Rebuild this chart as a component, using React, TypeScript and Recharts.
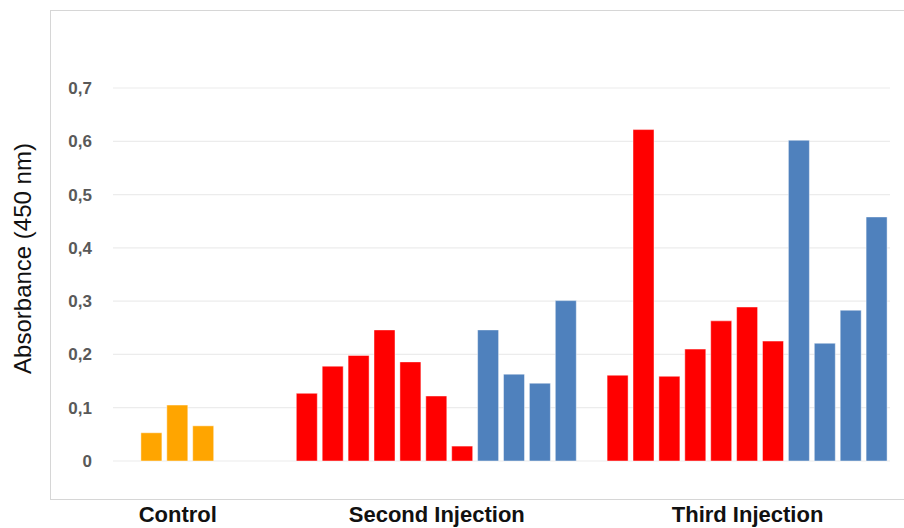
import { Bar, BarChart, CartesianGrid, Cell, XAxis, YAxis } from 'recharts';

// Absorbance readings per sample.
const controlValues = [0.053, 0.105, 0.066];
const secondRed = [0.127, 0.178, 0.198, 0.246, 0.186, 0.122, 0.028];
const secondBlue = [0.246, 0.163, 0.146, 0.301];
const thirdRed = [0.161, 0.622, 0.159, 0.21, 0.263, 0.289, 0.225];
const thirdBlue = [0.602, 0.221, 0.283, 0.458];

const groupLabels = ['Control', 'Second Injection', 'Third Injection'];
const yTicks = [0, 0.1, 0.2, 0.3, 0.4, 0.5, 0.6, 0.7];

const ORANGE = '#ffa500';
const RED = '#ff0000';
const BLUE = '#4f81bd';

interface Row {
  slot: string;
  value: number | null;
  color: string;
  label: string;
}

let slotId = 0;
const gap = (n: number): Row[] =>
  Array.from({ length: n }, () => ({ slot: `s${slotId++}`, value: null, color: 'none', label: '' }));

const group = (parts: [number[], string][], label: string): Row[] => {
  const rows: Row[] = parts.flatMap(([vals, color]) =>
    vals.map((v) => ({ slot: `s${slotId++}`, value: v, color, label: '' })),
  );
  rows[Math.floor((rows.length - 1) / 2)].label = label;
  return rows;
};

const rows: Row[] = [
  ...gap(1),
  ...group([[controlValues, ORANGE]], groupLabels[0]),
  ...gap(3),
  ...group([[secondRed, RED], [secondBlue, BLUE]], groupLabels[1]),
  ...gap(1),
  ...group([[thirdRed, RED], [thirdBlue, BLUE]], groupLabels[2]),
];

const fmt = (v: number) => (v === 0 ? '0' : v.toFixed(1).replace('.', ','));

function GroupTick(props: any) {
  const { x, y, index } = props;
  const label = rows[index]?.label;
  if (!label) return null;
  return (
    <text
      x={x}
      y={y}
      dy={61}
      textAnchor="middle"
      fill="#111"
      fontSize={22}
      fontWeight={700}
      fontFamily="'Liberation Sans', Arial, sans-serif"
    >
      {label}
    </text>
  );
}

export default function App() {
  return (
    <div style={{ position: 'absolute', left: 0, top: 0, width: 904, height: 528, background: '#fff', overflow: 'hidden' }}>
      <div
        style={{
          position: 'absolute',
          left: 50,
          top: 10,
          width: 900,
          height: 488,
          border: '1.5px solid #d6d6d6',
        }}
      />
      <div style={{ position: 'absolute', left: 0, top: 0 }}>
        <BarChart
          width={904}
          height={528}
          data={rows}
          margin={{ top: 88, right: 14, bottom: 37, left: 0 }}
          barSize={21}
        >
          <CartesianGrid vertical={false} stroke="#ececec" strokeWidth={1.2} />
          <XAxis
            dataKey="slot"
            interval={0}
            axisLine={false}
            tickLine={false}
            tickSize={0}
            tickMargin={0}
            tick={<GroupTick />}
          />
          <YAxis
            width={113}
            domain={[0, 0.7]}
            ticks={yTicks}
            tickFormatter={fmt}
            axisLine={false}
            tickLine={false}
            tickSize={0}
            tickMargin={21}
            tick={{ fill: '#595959', fontSize: 17, fontWeight: 700, fontFamily: "'Liberation Sans', Arial, sans-serif" }}
            label={{
              content: ({ viewBox }: any) => {
                const cx = viewBox.x + 22;
                const cy = viewBox.y + viewBox.height / 2 - 16;
                return (
                  <text
                    x={cx}
                    y={cy}
                    transform={`rotate(-90, ${cx}, ${cy})`}
                    textAnchor="middle"
                    dominantBaseline="central"
                    fill="#111"
                    fontSize={24}
                    fontFamily="'Liberation Sans', Arial, sans-serif"
                  >
                    Absorbance (450 nm)
                  </text>
                );
              },
            }}
          />
          <Bar dataKey="value" isAnimationActive={false} stroke="rgba(255,255,255,0.45)" strokeWidth={1}>
            {rows.map((r) => (
              <Cell key={r.slot} fill={r.color} />
            ))}
          </Bar>
        </BarChart>
      </div>
    </div>
  );
}
